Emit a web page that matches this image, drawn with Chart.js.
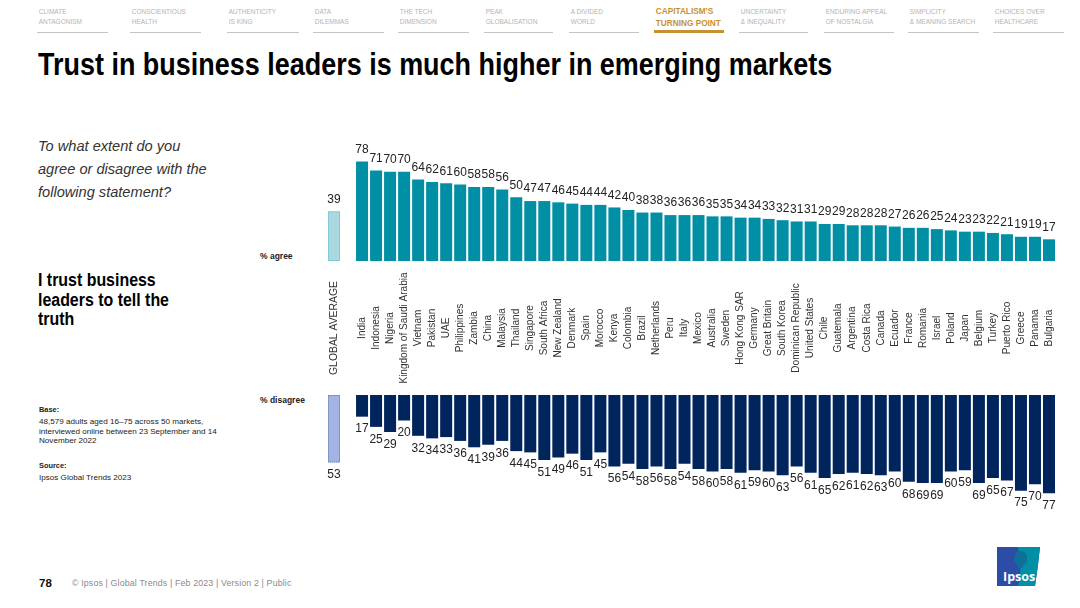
<!DOCTYPE html>
<html>
<head>
<meta charset="utf-8">
<title>Trust in business leaders</title>
<script src="https://cdn.jsdelivr.net/npm/chart.js@4"></script>
<style>
  html, body { margin: 0; padding: 0; background: #fff; }
  body { width: 1080px; height: 608px; position: relative; overflow: hidden; font-family: "Liberation Sans", Arial, sans-serif; }
  .abs { position: absolute; white-space: nowrap; }
  canvas { position: absolute; }
  .nav { position: absolute; top: 7px; height: 25px; border-bottom: 1px solid #c4c4c4; font-size: 7.4px; line-height: 10px; color: #b4b4b4; white-space: nowrap; }
  .nav span { display: block; padding-left: 2px; transform: scaleX(0.88); transform-origin: left top; }
  .nav.on { top: 5px; height: 25px; border-bottom: 3px solid #c8912f; color: #c8912f; font-weight: bold; font-size: 9.4px; line-height: 12px; }
  #title { left: 38px; top: 46px; font: bold 30.5px/36px "Liberation Sans", sans-serif; color: #000; transform: scaleX(0.884); transform-origin: left top; }
  #question { left: 38px; top: 135px; font: italic 14.6px/23px "Liberation Sans", sans-serif; color: #333; }
  #statement { left: 38px; top: 271px; font: bold 17.5px/19.5px "Liberation Sans", sans-serif; color: #000; transform: scaleX(0.91); transform-origin: left top; }
  .unit { left: 260px; font: bold 8.5px/10px "Liberation Sans", sans-serif; color: #222; }
  .note { left: 39px; font-size: 8.1px; line-height: 9.6px; color: #222; }
  .note b { font-size: 7.4px; }
  #pageNo { left: 39px; top: 577px; font: bold 11.5px/13px "Liberation Sans", sans-serif; color: #111; }
  #copy { left: 72px; top: 578px; font-size: 8.8px; line-height: 11px; color: #8a8a8a; letter-spacing: 0.15px; }
  #logo { position: absolute; left: 997px; top: 547px; }
</style>
</head>
<body>
<div id="navBar"></div>
<div class="abs" id="title">Trust in business leaders is much higher in emerging markets</div>
<div class="abs" id="question">To what extent do you<br>agree or disagree with the<br>following statement?</div>
<div class="abs" id="statement">I trust business<br>leaders to tell the<br>truth</div>
<div class="abs unit" style="top:251px">% agree</div>
<div class="abs unit" style="top:395px">% disagree</div>
<div class="abs note" style="top:405px"><b>Base:</b></div>
<div class="abs note" style="top:417px">48,579 adults aged 16–75 across 50 markets,<br>interviewed online between 23 September and 14<br>November 2022</div>
<div class="abs note" style="top:461px"><b>Source:</b></div>
<div class="abs note" style="top:473px">Ipsos Global Trends 2023</div>
<div class="abs" id="pageNo">78</div>
<div class="abs" id="copy">© Ipsos | Global Trends | Feb 2023 | Version 2 | Public</div>

<canvas id="agreeChart" width="729" height="255" style="left:327px;top:135px"></canvas>
<canvas id="disagreeChart" width="729" height="126" style="left:327px;top:395px"></canvas>

<svg id="logo" width="44" height="40" viewBox="0 0 44 40">
  <path d="M0 0H43Q41 20 38 39H0Z" fill="#2b4da6"/>
  <path d="M21 0H43Q41 20 38 39H21Q26 20 21 0Z" fill="#008fa4"/>
  <path d="M17 12Q17 4 24 4Q30 4 30 12Q30 17 26 18V21H21V18Q17 16 17 12Z" fill="#0f6f9a"/>
  <text x="6" y="34" font-family="Open Sans, Liberation Sans, sans-serif" font-weight="700" font-size="12.5" fill="#fff">Ipsos</text>
</svg>

<script>
const markets = ["India", "Indonesia", "Nigeria", "Kingdom of Saudi Arabia", "Vietnam", "Pakistan", "UAE", "Philippines", "Zambia", "China",
  "Malaysia", "Thailand", "Singapore", "South Africa", "New Zealand", "Denmark", "Spain", "Morocco", "Kenya", "Colombia",
  "Brazil", "Netherlands", "Peru", "Italy", "Mexico", "Australia", "Sweden", "Hong Kong SAR", "Germany", "Great Britain",
  "South Korea", "Dominican Republic", "United States", "Chile", "Guatemala", "Argentina", "Costa Rica", "Canada", "Ecuador", "France",
  "Romania", "Israel", "Poland", "Japan", "Belgium", "Turkey", "Puerto Rico", "Greece", "Panama", "Bulgaria"];
const agree = [78, 71, 70, 70, 64, 62, 61, 60, 58, 58,
  56, 50, 47, 47, 46, 45, 44, 44, 42, 40,
  38, 38, 36, 36, 36, 35, 35, 34, 34, 33,
  32, 31, 31, 29, 29, 28, 28, 28, 27, 26,
  26, 25, 24, 23, 23, 22, 21, 19, 19, 17];
const disagree = [17, 25, 29, 20, 32, 34, 33, 36, 41, 39,
  36, 44, 45, 51, 49, 46, 51, 45, 56, 54,
  58, 56, 58, 54, 58, 60, 58, 61, 59, 60,
  63, 56, 61, 65, 62, 61, 62, 63, 60, 68,
  69, 69, 60, 59, 69, 65, 67, 75, 70, 77];
const globalLabel = "GLOBAL AVERAGE";
const globalAgree = 39;
const globalDisagree = 53;

const navTop = [["CLIMATE", "ANTAGONISM"], ["CONSCIENTIOUS", "HEALTH"], ["AUTHENTICITY", "IS KING"], ["DATA", "DILEMMAS"], ["THE TECH", "DIMENSION"], ["PEAK", "GLOBALISATION"],
  ["A DIVIDED", "WORLD"], ["CAPITALISM’S", "TURNING POINT"], ["UNCERTAINTY", "& INEQUALITY"], ["ENDURING APPEAL", "OF NOSTALGIA"], ["SIMPLICITY", "& MEANING SEARCH"], ["CHOICES OVER", "HEALTHCARE"]];
const navLeft = [37, 130, 227, 313, 398, 484, 569, 654, 739, 824, 908, 993];
const navWidth = [71, 71, 72, 71, 71, 69, 70, 70, 69, 70, 71, 71];

// --- header strip ---
const navBar = document.getElementById("navBar");
navTop.forEach((n, i) => {
  const d = document.createElement("div");
  d.className = i === 7 ? "nav on" : "nav";
  d.style.left = navLeft[i] + "px";
  d.style.width = navWidth[i] + "px";
  d.innerHTML = "<span>" + n[0] + "<br>" + n[1] + "</span>";
  navBar.appendChild(d);
});

// --- the gap slot keeps global average apart from the markets ---
const labels = [globalLabel, ""].concat(markets);
const agreeData = [globalAgree, null].concat(agree);
const disagreeData = [globalDisagree, null].concat(disagree);

const valueLabels = {
  id: "valueLabels",
  afterDatasetsDraw(chart, args, opts) {
    const ctx = chart.ctx;
    const meta = chart.getDatasetMeta(0);
    const values = chart.data.datasets[0].data;
    ctx.save();
    ctx.font = "12px 'Liberation Sans'";
    ctx.fillStyle = "#222";
    ctx.textAlign = "center";
    ctx.textBaseline = "middle";
    meta.data.forEach((bar, i) => {
      if (values[i] === null) return;
      ctx.fillText(values[i], bar.x, bar.y + opts.offset);
    });
    // dotted outline round the average bar
    const g = meta.data[0];
    const left = g.x - g.width / 2;
    const top = Math.min(g.y, g.base);
    ctx.strokeStyle = opts.outline;
    ctx.globalAlpha = 0.6;
    ctx.lineWidth = 0.7;
    ctx.setLineDash([1, 1]);
    ctx.strokeRect(left + 0.5, top + 0.5, g.width - 1, Math.abs(g.y - g.base) - 1);
    ctx.restore();
  }
};

const marketLabels = {
  id: "marketLabels",
  afterDraw(chart) {
    const ctx = chart.ctx;
    const x = chart.scales.x;
    const mid = chart.chartArea.bottom + 67;
    ctx.save();
    ctx.fillStyle = "#333";
    ctx.textAlign = "center";
    ctx.textBaseline = "middle";
    chart.data.labels.forEach((label, i) => {
      ctx.save();
      ctx.translate(x.getPixelForValue(i), mid);
      ctx.rotate(-Math.PI / 2);
      ctx.font = i === 0 ? "10.4px 'Liberation Sans'" : "10.05px 'Liberation Sans'";
      ctx.fillText(label, 0, 0);
      ctx.restore();
    });
    ctx.restore();
  }
};

function barChart(id, data, main, light, opts, plugins) {
  return new Chart(document.getElementById(id), {
    type: "bar",
    data: {
      labels: labels,
      datasets: [{
        data: data,
        backgroundColor: data.map((v, i) => i === 0 ? light : main),
        categoryPercentage: 1,
        barPercentage: 0.857
      }]
    },
    options: {
      responsive: false,
      animation: false,
      layout: { padding: { bottom: opts.paddingBottom } },
      plugins: {
        legend: { display: false },
        tooltip: { enabled: false },
        valueLabels: { offset: opts.offset, outline: main }
      },
      scales: {
        x: { display: false },
        y: { display: false, min: 0, max: 98.8, reverse: opts.reverse }
      }
    },
    plugins: plugins
  });
}

barChart("agreeChart", agreeData, "#008fa4", "#a9d8e0", { paddingBottom: 129, offset: -12, reverse: false }, [valueLabels, marketLabels]);
barChart("disagreeChart", disagreeData, "#00245c", "#a5b3e4", { paddingBottom: 0, offset: 12.5, reverse: true }, [valueLabels]);
</script>
</body>
</html>
